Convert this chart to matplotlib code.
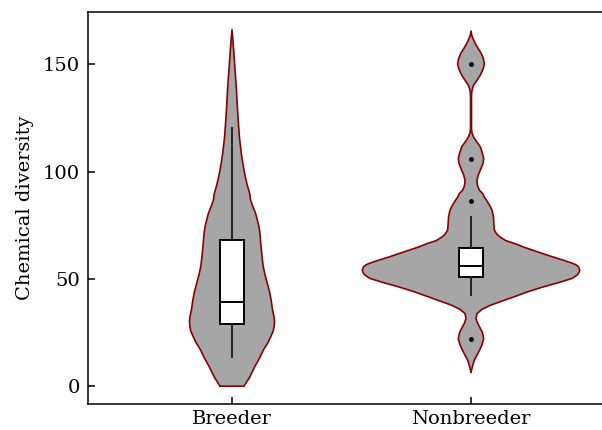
import numpy as np
import matplotlib
matplotlib.use("Agg")
import matplotlib.pyplot as plt

# data
groups = ["Breeder", "Nonbreeder"]

# violin outlines: value on y, half width (x-axis units)
breeder_y = [0, 4, 9, 13, 16.8, 20, 23, 25.5, 27.6, 30, 32.3, 36, 40, 44, 47.8,
             52, 55.6, 59, 63.4, 67, 71.1, 74.2, 77, 80.4, 83.5, 86.6, 89.8, 94,
             99, 104, 108.4, 116, 123.9, 131, 139.4, 147, 155, 161, 166.1]
breeder_w = [0.050, 0.073, 0.095, 0.115, 0.131, 0.149, 0.162, 0.172, 0.176, 0.178,
             0.176, 0.169, 0.164, 0.157, 0.148, 0.138, 0.131, 0.127, 0.123, 0.120,
             0.117, 0.113, 0.107, 0.099, 0.088, 0.078, 0.074, 0.063, 0.053, 0.045,
             0.039, 0.031, 0.026, 0.022, 0.018, 0.013, 0.008, 0.004, 0.0]

nonbreeder_y = [6.7, 8.2, 10, 12.1, 14.5, 16.8, 19.5, 22.2, 25, 27.6, 29.5, 31.5,
                33.8, 35.8, 37.7, 39.5, 41.6, 44, 46.3, 48.3, 50.2, 51.2, 52, 53,
                54, 55.6, 56.5, 57.1, 58.5, 60.2, 61.8, 63.3, 64.9, 66.4, 67.8,
                69.5, 71, 72.7, 75, 78.9, 80.4, 82, 84, 86.6, 88, 89.7, 91.2, 92.8,
                94.4, 96, 98.5, 101.4, 104, 106, 108.5, 111.5, 114, 116, 118, 120,
                135, 137, 138.5, 140.2, 142.5, 144.9, 147.5, 150, 152.5, 155, 157.5,
                159.6, 162, 163.5, 165.4]
nonbreeder_w = [0.0, 0.004, 0.008, 0.014, 0.025, 0.036, 0.047, 0.053, 0.048, 0.036,
                0.027, 0.021, 0.025, 0.046, 0.081, 0.126, 0.179, 0.238, 0.304, 0.368,
                0.423, 0.437, 0.446, 0.452, 0.455, 0.450, 0.440, 0.428, 0.392, 0.343,
                0.300, 0.259, 0.218, 0.184, 0.146, 0.121, 0.107, 0.098, 0.096, 0.094,
                0.091, 0.088, 0.079, 0.065, 0.056, 0.049, 0.036, 0.029, 0.026, 0.025,
                0.031, 0.042, 0.051, 0.053, 0.048, 0.039, 0.023, 0.011, 0.004, 0.002,
                0.002, 0.003, 0.006, 0.011, 0.025, 0.039, 0.050, 0.056, 0.052, 0.043,
                0.029, 0.018, 0.008, 0.003, 0.0]

# box summaries
whislo = [13.5, 42.4]
q1 = [28.9, 50.8]
med = [39.1, 55.9]
q3 = [68.0, 64.4]
whishi = [120.2, 78.9]
fliers = [[], [22.0, 86.2, 105.9, 150.0]]

plt.rcParams["font.family"] = ["DejaVu Serif"]

fig = plt.figure(figsize=(6.02, 4.30), dpi=100)
ax = fig.add_axes([88 / 602, 26 / 430, 527 / 602, 392 / 430])

fill_col = "#a6a6a6"
edge_col = "#8b0000"

profiles = [(breeder_y, breeder_w), (nonbreeder_y, nonbreeder_w)]
for i, (yy, ww) in enumerate(profiles):
    pos = i + 1
    yy = np.array(yy)
    ww = np.array(ww)
    xs = np.concatenate([pos - ww, (pos + ww)[::-1], [pos - ww[0]]])
    ys = np.concatenate([yy, yy[::-1], [yy[0]]])
    ax.fill(xs, ys, facecolor=fill_col, edgecolor="none", zorder=1)
    ax.plot(xs, ys, color=edge_col, lw=1.2, zorder=2, solid_joinstyle="round")

stats = []
for i in range(len(groups)):
    stats.append(dict(label=groups[i], whislo=whislo[i], q1=q1[i], med=med[i],
                      q3=q3[i], whishi=whishi[i], fliers=fliers[i]))

ax.bxp(stats, positions=[1, 2], widths=0.1, patch_artist=True, showcaps=False,
       boxprops=dict(facecolor="white", edgecolor="black", lw=1.4),
       medianprops=dict(color="black", lw=1.4),
       whiskerprops=dict(color="#222222", lw=1.4),
       flierprops=dict(marker="o", markersize=2.5, markerfacecolor="black",
                       markeredgecolor="black", linestyle="none"),
       zorder=3)

ax.set_xlim(0.3975, 2.6025)
ax.set_ylim(-8.3, 174.3)
ax.set_xticks([1, 2])
ax.set_xticklabels(groups)
ax.set_yticks([0, 50, 100, 150])
ax.set_ylabel("Chemical diversity", fontsize=14, labelpad=6)

ax.tick_params(axis="both", direction="in", length=5, width=1.1,
               labelsize=14, colors="black")
ax.tick_params(axis="y", pad=5.8)
ax.tick_params(axis="x", pad=4)
for s in ["left", "top", "bottom"]:
    ax.spines[s].set_linewidth(1.1)
ax.spines["right"].set_visible(False)

fig.savefig("out.png", dpi=100)
